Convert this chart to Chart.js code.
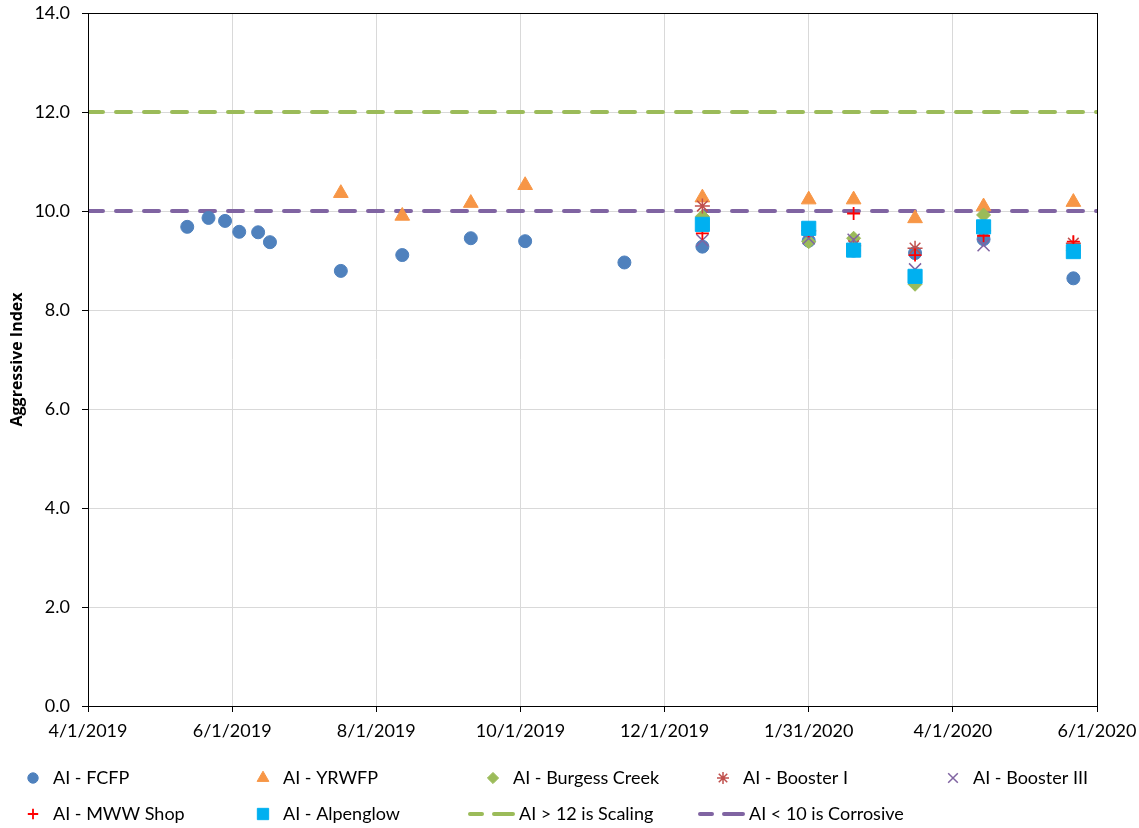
<!DOCTYPE html>
<html>
<head>
<meta charset="utf-8">
<script src="https://cdn.jsdelivr.net/npm/chart.js@4.4.1/dist/chart.umd.min.js"></script>
<style>
  html, body { margin: 0; padding: 0; background: #fff; }
  #wrap { width: 1139px; height: 828px; position: relative; }
</style>
</head>
<body>
<div id="wrap"><canvas id="aiChart"></canvas></div>
<script>
// x axis tick dates (every 61 days)
const tickDates = ['4/1/2019', '6/1/2019', '8/1/2019', '10/1/2019', '12/1/2019', '1/31/2020', '4/1/2020', '6/1/2020'];
const yTicks = [0, 2, 4, 6, 8, 10, 12, 14];

// sample dates
const fcfpDates = ['5/13/2019', '5/22/2019', '5/29/2019', '6/4/2019', '6/12/2019', '6/17/2019', '7/17/2019', '8/12/2019', '9/10/2019', '10/3/2019', '11/14/2019', '12/17/2019', '1/31/2020', '2/19/2020', '3/16/2020', '4/14/2020', '5/22/2020'];
const yrwfpDates = ['7/17/2019', '8/12/2019', '9/10/2019', '10/3/2019', '12/17/2019', '1/31/2020', '2/19/2020', '3/16/2020', '4/14/2020', '5/22/2020'];
const siteDates = ['12/17/2019', '1/31/2020', '2/19/2020', '3/16/2020', '4/14/2020', '5/22/2020'];

// series values
const fcfpValues = [9.68, 9.86, 9.80, 9.58, 9.57, 9.37, 8.79, 9.11, 9.45, 9.39, 8.96, 9.28, 9.40, 9.20, 9.15, 9.43, 8.64];
const yrwfpValues = [10.36, 9.90, 10.16, 10.52, 10.27, 10.23, 10.23, 9.85, 10.09, 10.18];
const burgessValues = [9.89, 9.38, 9.45, 8.52, 9.92, 9.20];
const booster1Values = [10.10, 9.60, 9.30, 9.25, 9.60, 9.35];
const booster3Values = [9.41, 9.45, 9.42, 8.82, 9.31, 9.20];
const mwwValues = [9.55, 9.60, 9.95, 9.11, 9.50, 9.38];
const alpenglowValues = [9.73, 9.65, 9.21, 8.68, 9.68, 9.18];

// threshold lines
const scalingLevel = 12;
const corrosiveLevel = 10;

const toDay = s => {
    const [m, d, y] = s.split('/').map(Number);
    return Date.UTC(y, m - 1, d) / 86400000;
};
const fmtDay = v => {
    const dt = new Date(Math.round(v) * 86400000);
    return (dt.getUTCMonth() + 1) + '/' + dt.getUTCDate() + '/' + dt.getUTCFullYear();
};
const pts = (dates, vals) => dates.map((d, i) => ({ x: toDay(d), y: vals[i] }));

const xMin = toDay(tickDates[0]);
const xMax = toDay(tickDates[tickDates.length - 1]);

const series = [
    { label: 'AI - FCFP', data: pts(fcfpDates, fcfpValues), color: '#4f81bd', style: 'circle', r: 6.5, bw: 1, fill: true },
    { label: 'AI - YRWFP', data: pts(yrwfpDates, yrwfpValues), color: '#f79646', style: 'triangle', r: 8.5, bw: 1, fill: true },
    { label: 'AI - Burgess Creek', data: pts(siteDates, burgessValues), color: '#9bbb59', style: 'rectRot', r: 7, bw: 1, fill: true },
    { label: 'AI - Booster I', data: pts(siteDates, booster1Values), color: '#c0504d', style: 'star', r: 7.5, bw: 1.5, fill: false },
    { label: 'AI - Booster III', data: pts(siteDates, booster3Values), color: '#8064a2', style: 'crossRot', r: 8.5, bw: 1.5, fill: false },
    { label: 'AI - MWW Shop', data: pts(siteDates, mwwValues), color: '#ff0000', style: 'cross', r: 6.5, bw: 1.8, fill: false },
    { label: 'AI - Alpenglow', data: pts(siteDates, alpenglowValues), color: '#00b0f0', style: 'rect', r: 10, bw: 1, fill: true }
];

const datasets = series.map((s, i) => ({
    type: 'scatter',
    label: s.label,
    data: s.data,
    pointStyle: s.style,
    pointRadius: s.r,
    pointHoverRadius: s.r,
    pointBorderWidth: s.bw,
    borderColor: s.color,
    backgroundColor: s.fill ? s.color : 'rgba(0,0,0,0)',
    pointBackgroundColor: s.fill ? s.color : 'rgba(0,0,0,0)',
    pointBorderColor: s.color,
    order: 20 - i
}));

const refLines = [
    { label: 'AI > 12 is Scaling', level: scalingLevel, color: '#9bbb59' },
    { label: 'AI < 10 is Corrosive', level: corrosiveLevel, color: '#8064a2' }
];
refLines.forEach(l => {
    datasets.push({
        type: 'line',
        label: l.label,
        data: [{ x: xMin, y: l.level }, { x: xMax, y: l.level }],
        borderColor: l.color,
        borderWidth: 4,
        borderDash: [15, 13],
        borderCapStyle: 'round',
        pointRadius: 0,
        fill: false,
        order: 50
    });
});

// box around the plot and custom legend laid out in fixed columns
const framePlugin = {
    id: 'frame',
    afterDraw(chart) {
        const { ctx, chartArea: a } = chart;
        ctx.save();
        ctx.strokeStyle = '#000';
        ctx.lineWidth = 1;
        ctx.strokeRect(Math.round(a.left) + 0.5, Math.round(a.top) + 0.5, Math.round(a.right - a.left), Math.round(a.bottom - a.top));

        const colX = [33, 263, 493, 723, 953];
        const rowY = [778, 814];
        const items = series.map(s => ({ kind: 'point', s, label: s.label }))
            .concat(refLines.map(l => ({ kind: 'line', l, label: l.label })));
        ctx.font = '18px Lato';
        ctx.textBaseline = 'middle';
        ctx.fillStyle = '#000';
        items.forEach((it, i) => {
            const x = colX[i % 5];
            const y = rowY[Math.floor(i / 5)];
            if (it.kind === 'point') {
                ctx.save();
                ctx.strokeStyle = it.s.color;
                ctx.fillStyle = it.s.fill ? it.s.color : 'rgba(0,0,0,0)';
                ctx.lineWidth = it.s.bw;
                Chart.helpers.drawPoint(ctx, { pointStyle: it.s.style, radius: it.s.r * 0.8, rotation: 0, borderWidth: it.s.bw }, x, y);
                ctx.restore();
                ctx.fillText(it.label, x + 20, y);
            } else {
                ctx.save();
                ctx.strokeStyle = it.l.color;
                ctx.lineWidth = 4;
                ctx.lineCap = 'round';
                ctx.beginPath();
                ctx.moveTo(x - 23, y); ctx.lineTo(x - 11, y);
                ctx.moveTo(x + 1, y); ctx.lineTo(x + 20, y);
                ctx.stroke();
                ctx.restore();
                ctx.fillText(it.label, x + 26, y);
            }
        });
        ctx.restore();
    }
};

Chart.defaults.font.family = 'Lato';
Chart.defaults.font.size = 18;
Chart.defaults.color = '#000';

new Chart(document.getElementById('aiChart'), {
    type: 'scatter',
    data: { datasets },
    options: {
        responsive: true,
        maintainAspectRatio: false,
        animation: false,
        layout: { padding: { top: 13, right: 42, left: 0, bottom: 0 } },
        plugins: {
            legend: { display: false },
            tooltip: { enabled: false }
        },
        scales: {
            x: {
                type: 'linear',
                min: xMin,
                max: xMax,
                afterBuildTicks: s => { s.ticks = tickDates.map(d => ({ value: toDay(d) })); },
                afterFit: s => { s.height = 122; s.paddingLeft = 0; s.paddingRight = 0; },
                ticks: {
                    callback: v => fmtDay(v),
                    maxRotation: 0,
                    autoSkip: false,
                    padding: 8
                },
                grid: { color: '#d9d9d9', tickColor: '#000', tickLength: 6 },
                border: { color: '#000', width: 1 }
            },
            y: {
                min: 0,
                max: 14,
                afterBuildTicks: s => { s.ticks = yTicks.map(v => ({ value: v })); },
                afterFit: s => { s.width = 88; s.paddingTop = 0; s.paddingBottom = 0; },
                ticks: {
                    callback: v => v.toFixed(1),
                    padding: 12
                },
                grid: { color: '#d9d9d9', tickColor: '#000', tickLength: 6 },
                border: { color: '#000', width: 1 },
                title: {
                    display: true,
                    text: 'Aggressive Index',
                    font: { family: 'Open Sans', size: 16, weight: 'bold' },
                    padding: { top: 8, bottom: 0 }
                }
            }
        }
    },
    plugins: [framePlugin]
});
</script>
</body>
</html>
